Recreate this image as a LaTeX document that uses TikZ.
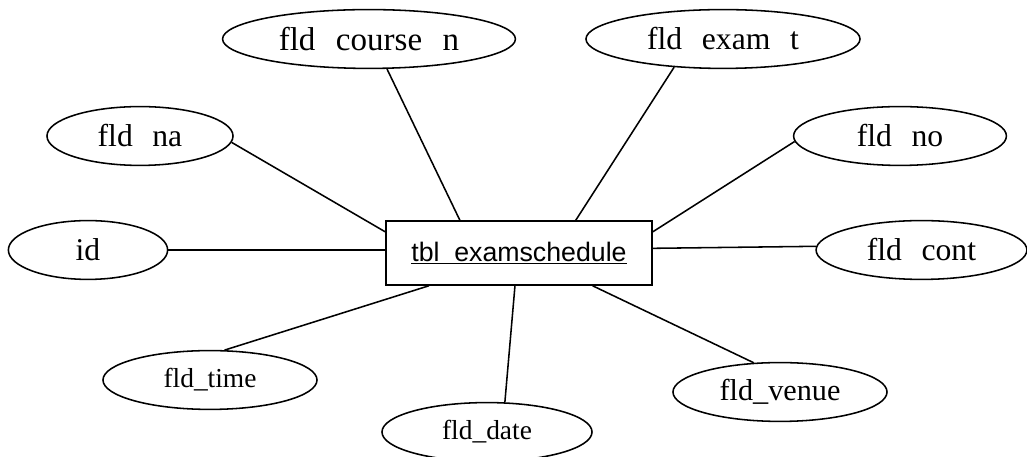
\documentclass[tikz,border=0pt]{standalone}
\usepackage{fontspec}
\setmainfont{Liberation Serif}
\newfontfamily\tblfont{Liberation Sans}
\usetikzlibrary{shapes.geometric}
\newcommand{\fgap}{\hspace{0.62em}}
\begin{document}
\begin{tikzpicture}[x=0.025cm, y=-0.025cm,
    attr/.style={draw, ellipse, line width=1.1pt, inner sep=0pt, minimum height=1.47cm,
      font=\fontsize{22.5}{26}\selectfont},
    attrs/.style={attr, font=\fontsize{19.5}{23}\selectfont},
    entity/.style={draw, rectangle, line width=1.1pt, minimum width=6.65cm, minimum height=1.6cm,
      font=\tblfont\fontsize{19}{22}\selectfont},
    link/.style={line width=1.1pt}]
        % Canvas
        \useasboundingbox (0,0) rectangle (1027,457);
        % Entity
        \node[entity] (tbl) at (519,253) {\underline{tbl\hspace{0.55em}examschedule}};
        % Attributes
        \node[attr, minimum width=7.32cm, font=\fontsize{23.5}{27}\selectfont] (course) at (369,39)
          {fld\fgap course\fgap n};
        \node[attr, minimum width=6.85cm] (exam) at (723,39) {fld\fgap exam\fgap t};
        \node[attr, minimum width=4.65cm] (na) at (140,136) {fld\fgap na};
        \node[attr, minimum width=3.98cm] (id) at (88,250) {id};
        \node[attr, minimum width=5.32cm] (no) at (900,136) {fld\fgap no};
        \node[attr, minimum width=5.27cm] (cont) at (921.5,250) {fld\fgap cont};
        \node[attrs, minimum width=5.35cm] (time) at (210,380) {fld\_time};
        \node[attrs, minimum width=5.25cm] (date) at (487,432) {fld\_date};
        \node[attrs, minimum width=5.35cm, font=\fontsize{21.5}{25}\selectfont] (venue) at (780,392) {fld\_venue};
        % Links
        \draw[link] (course.-59) -- (tbl.151.5);
        \draw[link] (exam.210.3) -- (tbl.30.6);
        \draw[link] (na.-4.3) -- (tbl.171);
        \draw[link] (id.east) -- (id.east -| tbl.west);
        \draw[link] (no.183.7) -- (tbl.9.4);
        \draw[link] (cont.178.4) -- (tbl.2.6);
        \draw[link] (time.64.2) -- (tbl.-160.2);
        \draw[link] (date.59.6) -- (tbl.-97.1);
        \draw[link] (venue.132.9) -- (tbl.-24.9);
\end{tikzpicture}
\end{document}
